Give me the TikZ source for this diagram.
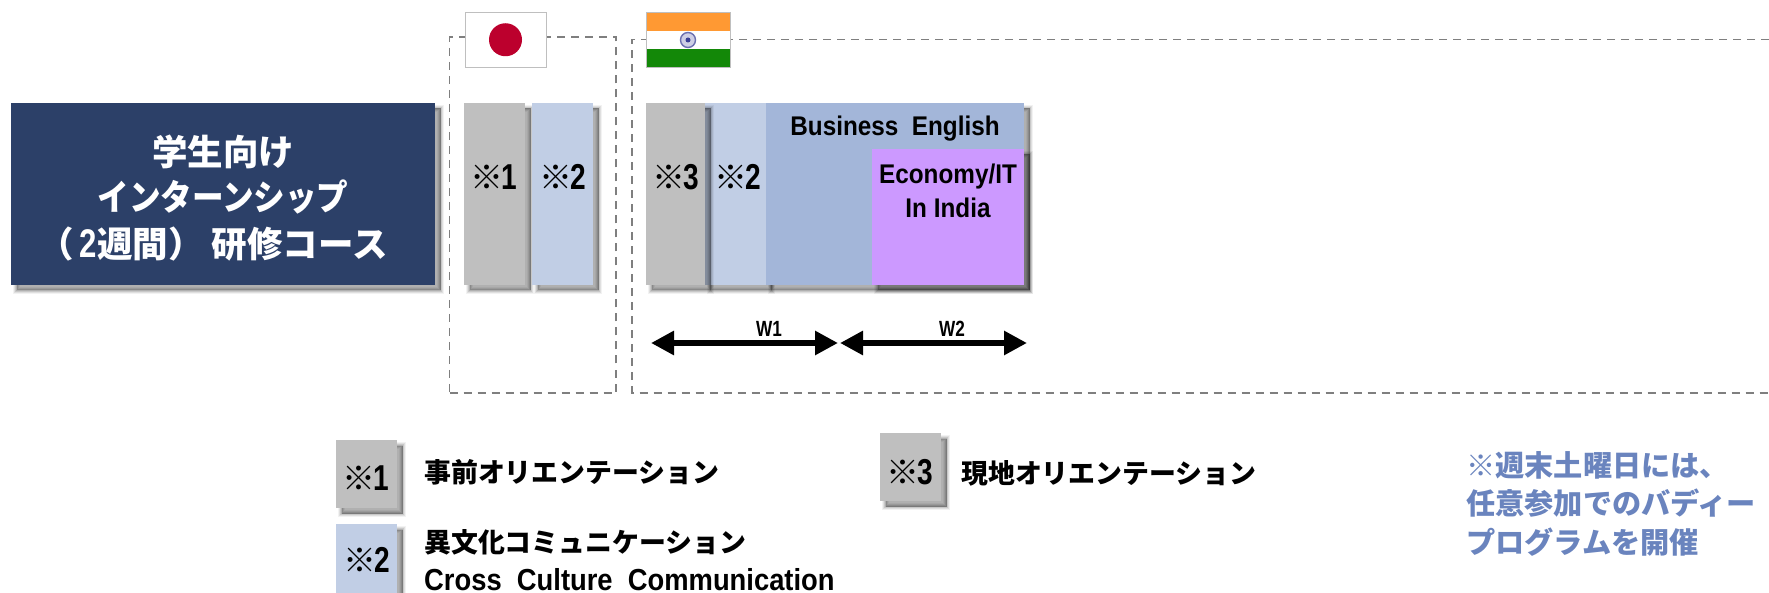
\documentclass[tikz,border=0pt]{standalone}
\usepackage{fontspec}
\usepackage{graphicx}
\usetikzlibrary{arrows.meta}
\newfontfamily\jpf{Noto Sans CJK JP}
\newfontfamily\latf{Liberation Sans}[FakeStretch=0.9]
\newfontfamily\latn{Liberation Sans}[FakeStretch=0.78]
\definecolor{navy}{HTML}{2C4068}
\definecolor{greyb}{HTML}{BFBFBF}
\definecolor{lblue}{HTML}{C1CEE5}
\definecolor{mblue}{HTML}{A3B6D9}
\definecolor{purp}{HTML}{CC99FF}
\definecolor{dashc}{HTML}{7F7F7F}
\definecolor{noteb}{HTML}{6A84BE}
\definecolor{saff}{HTML}{FF9933}
\definecolor{igreen}{HTML}{138808}
\definecolor{wheel}{HTML}{3A3F96}
\definecolor{jpred}{HTML}{BC002D}
\newcommand{\jpsz}[1]{\fontsize{#1pt}{#1pt}\selectfont\bfseries\jpf}
\newcommand{\latsz}[1]{\fontsize{#1pt}{#1pt}\selectfont\bfseries\latf}
\newcommand{\latnsz}[1]{\fontsize{#1pt}{#1pt}\selectfont\bfseries\latn}
\newcommand{\mk}[1]{{\jpf\fontsize{33pt}{33pt}\selectfont ※}\hspace{-1.5pt}{\latn\fontsize{36pt}{36pt}\selectfont #1}}
\tikzset{
  x=1pt,y=-1pt,
  softshadow/.style={
    preaction={draw=black,fill=black,line width=7pt,opacity=.05,transform canvas={shift={(5.5pt,-5.5pt)}}},
    preaction={draw=black,fill=black,line width=5pt,opacity=.08,transform canvas={shift={(5.5pt,-5.5pt)}}},
    preaction={draw=black,fill=black,line width=3pt,opacity=.10,transform canvas={shift={(5.5pt,-5.5pt)}}},
    preaction={draw=black,fill=black,line width=1pt,opacity=.12,transform canvas={shift={(5.5pt,-5.5pt)}}}},
  blockbox/.style={anchor=north west,inner sep=0pt,outer sep=0pt,softshadow},
  flagpart/.style={anchor=north west,inner sep=0pt,outer sep=0pt},
  dashline/.style={draw=dashc,line width=1.8pt,dash pattern=on 8pt off 6pt},
  framebox/.style={anchor=north west,inner sep=0pt,outer sep=0pt,dashline},
  wtext/.style={inner sep=0pt,text=white,font=\jpsz{35.5}},
  ktext/.style={inner sep=0pt,text=black},
  jptext/.style={inner sep=0pt,anchor=west,text=black,font=\jpsz{26.9}},
  notetext/.style={inner sep=0pt,anchor=west,text=noteb,font=\jpsz{29.2}},
  latlabel/.style={inner sep=0pt,text=black,font=\latsz{27}},
  weeklabel/.style={inner sep=0pt,text=black,font=\latnsz{22}},
  weekarrow/.style={line width=6.5pt,{Triangle[length=23pt,width=23pt]}-{Triangle[length=23pt,width=23pt]}},
}
\begin{document}
\begin{tikzpicture}
\useasboundingbox (0,0) rectangle (1769,593);
% dashed frames
\node[framebox,minimum width=166.5pt,minimum height=356pt] (jpframe) at (449.5,37) {};
\coordinate (inTR) at (1769,39.5);
\coordinate (inTL) at (632,39.5);
\coordinate (inBL) at (632,393);
\coordinate (inBR) at (1769,393);
\draw[dashline] (inTR) -- (inTL) -- (inBL) -- (inBR);
% flags
\node[flagpart,fill=white,draw=greyb,line width=.8pt,minimum width=81pt,minimum height=55.5pt] (jpflag) at (465,12) {};
\node[flagpart,circle,fill=jpred,minimum size=33pt,anchor=center] (jpsun) at (jpflag.center) {};
\node[flagpart,fill=white,minimum width=84pt,minimum height=55.5pt] (inflag) at (646,12) {};
\node[flagpart,fill=saff,minimum width=84pt,minimum height=19pt] (instripea) at (646,12) {};
\node[flagpart,fill=igreen,minimum width=84pt,minimum height=18.5pt] (instripeb) at (646,49) {};
\node[flagpart,draw=greyb,line width=.8pt,minimum width=84pt,minimum height=55.5pt] (inborder) at (646,12) {};
\node[flagpart,anchor=center,circle,draw=wheel!75,fill=wheel!25,line width=1.4pt,minimum size=15pt] (inwheel) at (688,40) {};
\node[flagpart,anchor=center,circle,fill=wheel,minimum size=5pt] (inhub) at (688,40) {};
% main box
\node[blockbox,fill=navy,minimum width=424pt,minimum height=182pt] (main) at (11,103) {};
\node[wtext] (m1) at (223,152) {学生向け};
\node[wtext] (m2) at (223,197) {\scalebox{.89}[1]{インターンシップ}};
\node[wtext] (m3) at (213,244) {（\hspace{6pt}{\latnsz{40}2}週間） 研修コース};
% Japan
\node[blockbox,fill=greyb,minimum width=61pt,minimum height=182pt] (j1) at (464,103) {};
\node[blockbox,fill=lblue,minimum width=61pt,minimum height=182pt] (j2) at (532,103) {};
\node[ktext] (j1t) at (494,177) {\bfseries\mk{1}};
\node[ktext] (j2t) at (563,177) {\bfseries\mk{2}};
% India
\node[blockbox,fill=lblue,minimum width=61pt,minimum height=182pt] (i2) at (705,103) {};
\node[blockbox,fill=mblue,minimum width=258pt,minimum height=182pt] (be) at (766,103) {};
\node[blockbox,fill=purp,minimum width=152pt,minimum height=136pt] (eco) at (872,149) {};
\node[blockbox,fill=greyb,minimum width=59pt,minimum height=182pt] (i3) at (646,103) {};
\node[ktext] (i3t) at (676,177) {\bfseries\mk{3}};
\node[ktext] (i2t) at (738,177) {\bfseries\mk{2}};
\node[latlabel] (bet) at (895,129) {Business\ \ English};
\node[latlabel] (ecot) at (948,177) {Economy/IT};
\node[latlabel] (ecot2) at (948,208) {In India};
% week arrows
\coordinate (a1) at (651,343);
\coordinate (a2) at (838,343);
\coordinate (a3) at (840,343);
\coordinate (a4) at (1027,343);
\draw[weekarrow] (a1) -- (a2);
\draw[weekarrow] (a3) -- (a4);
\node[weeklabel] (w1) at (769,329) {W1};
\node[weeklabel] (w2) at (952,329) {W2};
% legend
\node[blockbox,fill=greyb,minimum width=61pt,minimum height=68pt] (l1) at (336,440) {};
\node[blockbox,fill=lblue,minimum width=61pt,minimum height=70pt] (l2) at (336,524) {};
\node[blockbox,fill=greyb,minimum width=61pt,minimum height=68pt] (l3) at (880,433) {};
\node[ktext] (l1t) at (366,478) {\bfseries\mk{1}};
\node[ktext] (l2t) at (367,560) {\bfseries\mk{2}};
\node[ktext] (l3t) at (910,472) {\bfseries\mk{3}};
\node[jptext] (d1) at (424,472) {事前オリエンテーション};
\node[jptext] (d3) at (961,473) {現地オリエンテーション};
\node[jptext] (d2) at (424,542) {異文化コミュニケーション};
\node[inner sep=0pt,anchor=west,font=\latsz{30.4}] (d2b) at (424,580) {Cross\ \ Culture\ \ Communication};
% note
\node[notetext] (n1) at (1466,465) {※週末土曜日には、};
\node[notetext] (n2) at (1466,503) {任意参加でのバディー};
\node[notetext] (n3) at (1466,542) {プログラムを開催};
\end{tikzpicture}
\end{document}
